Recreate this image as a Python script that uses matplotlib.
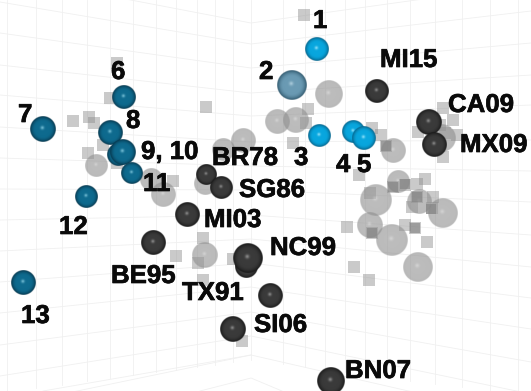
import numpy as np
import matplotlib
matplotlib.use("Agg")
import matplotlib.pyplot as plt
import matplotlib.patheffects as pe

# everything in image pixels (y down)
WIDTH, HEIGHT = 531, 391

# grid: wall lines as y at the left edge, the back corner and the right edge
wall_left_y = [-25, 2, 33, 65, 95, 127, 158, 189, 220, 251, 282, 313, 345, 376, 407]
wall_corner_y = [23, 44, 68, 93, 116, 142, 166, 190, 215, 239, 263, 287, 312, 336, 355]
wall_right_y = [-16, 11, 43, 75, 105, 140, 171, 202, 235, 267, 298, 329, 362, 394, 419]
corner_x = 251
grid_vertical_x = [7, 36, 62, 87, 110, 133, 156, 176, 197, 215, 233, 251,
                   283, 305, 325, 345, 365, 387, 410, 435, 462, 490, 518]

# grey squares
square_x = [304, 308, 293, 306, 372, 381, 386, 359, 405, 425, 370, 443, 453, 418, 440,
            457, 445, 443, 393, 417, 417, 412, 433, 432, 347, 372, 405, 415, 427, 354,
            369, 206, 117, 110, 73, 89, 94, 88, 103, 117, 173, 203, 176, 198, 203, 233, 242]
square_y = [15, 109, 143, 123, 128, 135, 146, 175, 185, 179, 193, 108, 120, 132, 125,
            135, 133, 157, 187, 184, 197, 207, 197, 208, 227, 233, 225, 228, 242, 267,
            280, 107, 63, 98, 121, 117, 123, 153, 145, 163, 181, 238, 256, 263, 280, 259, 341]
# darker spots where several grey marks pile up
overlap_x = [386, 393, 405, 417, 372, 415, 431]
overlap_y = [146, 187, 184, 197, 233, 228, 209]

# grey spheres
grey_x = [329, 277, 296, 393, 398, 376, 443, 370, 392, 418, 205, 96, 151, 163, 223, 243, 205, 442, 419]
grey_y = [94, 122, 120, 151, 182, 200, 213, 225, 240, 267, 255, 166, 180, 195, 150, 141, 184, 138, 202]
grey_r = [13, 12, 12.5, 12, 11, 15, 14, 12.5, 15, 14, 12.5, 11, 11, 12, 11, 12, 11, 13, 12]

# numbered spheres, bright group then the dark teal group
bright_x = [317, 319, 353, 364]
bright_y = [49, 136, 132, 138]
bright_r = [11.5, 11, 11, 11.5]
pale_x = [292]
pale_y = [85]
pale_r = [14]
teal_x = [124, 43, 110, 118, 123, 132, 86, 23]
teal_y = [97, 129, 133, 155, 152, 173, 197, 283]
teal_r = [11.5, 12.5, 12, 11, 12.5, 10.5, 11, 12]

# black spheres
black_x = [377, 429, 434, 206, 221, 187, 153, 246, 248, 270, 233, 331]
black_y = [91, 122, 145, 175, 188, 215, 243, 267, 258, 296, 329, 381]
black_r = [11.5, 12.5, 12, 10, 11, 12, 12, 11, 14, 12, 12.5, 13]

labels = ["1", "2", "3", "4", "5", "6", "7", "8", "9, 10", "11", "12", "13",
          "MI15", "CA09", "MX09", "BR78", "SG86", "MI03", "BE95", "TX91",
          "NC99", "SI06", "BN07"]
label_x = [313, 259, 294, 336, 357, 111, 18, 126, 141, 143, 59, 21,
           380, 448, 460, 212, 239, 204, 111, 182, 270, 254, 345]
label_y = [28, 79, 165, 172, 172, 79, 122, 128, 159, 191, 234, 323,
           67, 112, 152, 165, 197, 227, 283, 300, 255, 332, 378]


def sphere_sprite(body, edge, spot, alpha=1.0, n=64):
    # small shaded ball as an RGBA image: dark rim, soft middle, white-ish spot
    u = (np.arange(n) + 0.5) / n * 2 - 1
    xx, yy = np.meshgrid(u, u)
    rr = np.sqrt(xx ** 2 + yy ** 2)
    body = np.array(matplotlib.colors.to_rgb(body))
    edge = np.array(matplotlib.colors.to_rgb(edge))
    spot = np.array(matplotlib.colors.to_rgb(spot))
    rim = np.clip((rr - 0.55) / 0.45, 0, 1)[..., None] ** 2
    glow = np.exp(-(((xx + 0.05) ** 2 + (yy + 0.1) ** 2) / 0.018))[..., None] * 0.8
    rgb = body * (1 - rim) + edge * rim
    rgb = rgb * (1 - glow) + spot * glow
    mask = np.clip((1 - rr) * n / 2, 0, 1) * alpha
    return np.dstack([rgb, mask])


def draw_spheres(ax, xs, ys, rs, sprite, zorder):
    for x, y, r in zip(xs, ys, rs):
        r = r * 1.04
        ax.imshow(sprite, extent=(x - r, x + r, y + r, y - r), zorder=zorder,
                  interpolation="bilinear", aspect="auto")


fig = plt.figure(figsize=(WIDTH / 100, HEIGHT / 100), dpi=100)
ax = fig.add_axes([0, 0, 1, 1])
ax.set_axis_off()

# Walls and floor
grid_color = "#f0f0f0"
for y0, yc, y1 in zip(wall_left_y, wall_corner_y, wall_right_y):
    ax.plot([0, corner_x, WIDTH], [y0, yc, y1], color=grid_color, lw=0.6, zorder=1)
for x in grid_vertical_x:
    ax.plot([x, x], [0, 360 + abs(x - corner_x) * 0.13], color=grid_color, lw=0.6, zorder=1)
ax.plot([43, corner_x], [391, 355], color=grid_color, lw=0.6, zorder=1)
ax.plot([200, corner_x, 282], [391, 378, 391], color=grid_color, lw=0.6, zorder=1)

# Grey background marks
ax.scatter(square_x, square_y, s=84, marker="s", color="#8c8c8c", alpha=0.46, linewidths=0, zorder=2)
ax.scatter(overlap_x, overlap_y, s=50, marker="s", color="#808080", alpha=0.6, linewidths=0, zorder=4)
draw_spheres(ax, grey_x, grey_y, grey_r, sphere_sprite("#939393", "#8c8c8c", "#c0c0c0", alpha=0.62), 3)

# Coloured and black spheres
draw_spheres(ax, pale_x, pale_y, pale_r, sphere_sprite("#6a9ab3", "#2c5469", "#b6d4e2"), 5)
draw_spheres(ax, bright_x, bright_y, bright_r, sphere_sprite("#08a6de", "#055f85", "#a8ecff"), 5)
draw_spheres(ax, teal_x, teal_y, teal_r, sphere_sprite("#0e6a8e", "#063449", "#86cde2"), 5)
draw_spheres(ax, black_x, black_y, black_r, sphere_sprite("#3a3a3a", "#161616", "#9c9c9c"), 5)

for text, x, y in zip(labels, label_x, label_y):
    ax.text(x, y, text, family=["Liberation Sans", "DejaVu Sans"], fontweight="bold",
            fontsize=18.6, color="#0a0a0a", ha="left", va="baseline", zorder=6,
            path_effects=[pe.withStroke(linewidth=0.5, foreground="#0a0a0a")])

ax.set_xlim(0, WIDTH)
ax.set_ylim(HEIGHT, 0)
fig.savefig("out.png", dpi=100)
